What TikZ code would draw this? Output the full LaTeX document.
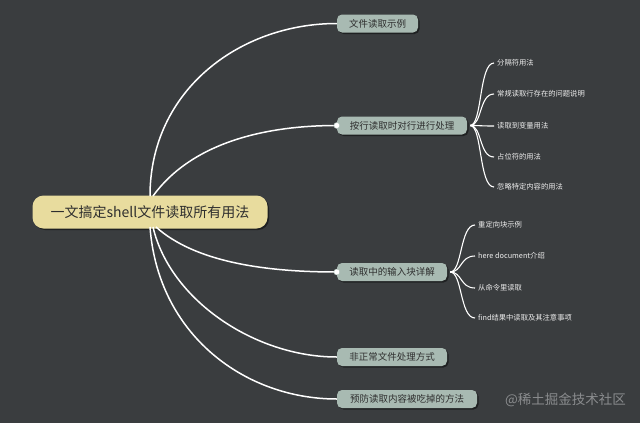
\documentclass[tikz,border=0pt]{standalone}
\usepackage{fontspec}
\setmainfont{Noto Sans CJK SC}
\usetikzlibrary{shadows}
\definecolor{bg}{HTML}{3A3D3F}
\definecolor{rootfill}{HTML}{E8DC9E}
\definecolor{subfill}{HTML}{A8BAB2}
\definecolor{darktext}{HTML}{2E2E2E}
\definecolor{leaftext}{HTML}{EEEEEE}
\definecolor{wm}{HTML}{8A8C8E}
\tikzset{
  rootbox/.style={draw=none, fill=rootfill, rounded corners=11pt, minimum width=235pt, minimum height=33pt,
    font=\fontsize{14}{16}\selectfont, text=darktext, inner sep=0pt,
    drop shadow={shadow xshift=1.5pt, shadow yshift=-1.5pt, fill=black, opacity=0.45}},
  subbox/.style={draw=none, fill=subfill, rounded corners=5pt, minimum height=18pt, inner xsep=6pt, inner ysep=0pt,
    font=\fontsize{9.5}{11}\selectfont, text=darktext,
    drop shadow={shadow xshift=1.5pt, shadow yshift=-1.5pt, fill=black, opacity=0.45}},
  leaf/.style={anchor=west, inner sep=0pt, font=\fontsize{7.3}{8}\selectfont, text=leaftext},
  mainline/.style={draw=white, line width=1.5pt},
  leafline/.style={draw=white, line width=1.1pt},
  knob/.style={circle, fill=white, draw=subfill, line width=0.4pt, minimum size=6pt, inner sep=0pt},
}
\begin{document}
\begin{tikzpicture}[x=1pt, y=-1pt]
\fill[bg] (0,0) rectangle (640,423);
\useasboundingbox (0,0) rectangle (640,423);

\coordinate (rt) at (150,196);
\coordinate (rt2) at (153,196);
\coordinate (rb) at (150,227);
\coordinate (rb2) at (153,227);
\coordinate (rb3) at (156,227);

\node[rootbox] (root) at (150,212) {一文搞定shell文件读取所有用法};

\node[subbox, minimum width=81pt] (b1) at (377.5,23.5) {文件读取示例};
\node[subbox, minimum width=130pt] (b2) at (402,125.5) {按行读取时对行进行处理};
\node[subbox, minimum width=110pt] (b3) at (392,272) {读取中的输入块详解};
\node[subbox, minimum width=110pt] (b4) at (392,357) {非正常文件处理方式};
\node[subbox, minimum width=140pt] (b5) at (407,399) {预防读取内容被吃掉的方法};

\draw[mainline] (rt) .. controls (150,90) and (240,23.5) .. (b1.west);
\draw[mainline] (rt2) .. controls (190,145) and (260,125.5) .. (b2.west);
\draw[mainline] (rb3) .. controls (195,262) and (265,272) .. (b3.west);
\draw[mainline] (rb2) .. controls (170,300) and (255,357) .. (b4.west);
\draw[mainline] (rb) .. controls (158,335) and (245,399) .. (b5.west);

\node[knob] (k2) at (b2.west) {};
\node[knob] (k3) at (b3.west) {};

% leaves of b2
\coordinate (o2) at ([xshift=3pt]b2.east);
\node[leaf] (l21) at (497,63) {分隔符用法};
\node[leaf] (l22) at (497,94) {常规读取行存在的问题说明};
\node[leaf] (l23) at (497,126) {读取到变量用法};
\node[leaf] (l24) at (497,157) {占位符的用法};
\node[leaf] (l25) at (497,187) {忽略特定内容的用法};
\foreach \n in {l21,l22,l23,l24,l25}{
  \draw[leafline] (o2) .. controls ([xshift=12pt]o2) and ([xshift=-18pt]\n.west) .. ([xshift=-3pt]\n.west);
}

% leaves of b3
\coordinate (o3) at ([xshift=3pt]b3.east);
\node[leaf] (l31) at (478,225) {重定向块示例};
\node[leaf] (l32) at (478,256) {here document介绍};
\node[leaf] (l33) at (478,288) {从命令里读取};
\node[leaf] (l34) at (478,318) {find结果中读取及其注意事项};
\foreach \n in {l31,l32,l33,l34}{
  \draw[leafline] (o3) .. controls ([xshift=12pt]o3) and ([xshift=-18pt]\n.west) .. ([xshift=-3pt]\n.west);
}

\node[anchor=west, inner sep=0pt, text=wm, font=\fontsize{13.5}{15}\selectfont] (wmk) at (505,400) {@稀土掘金技术社区};
\end{tikzpicture}
\end{document}
